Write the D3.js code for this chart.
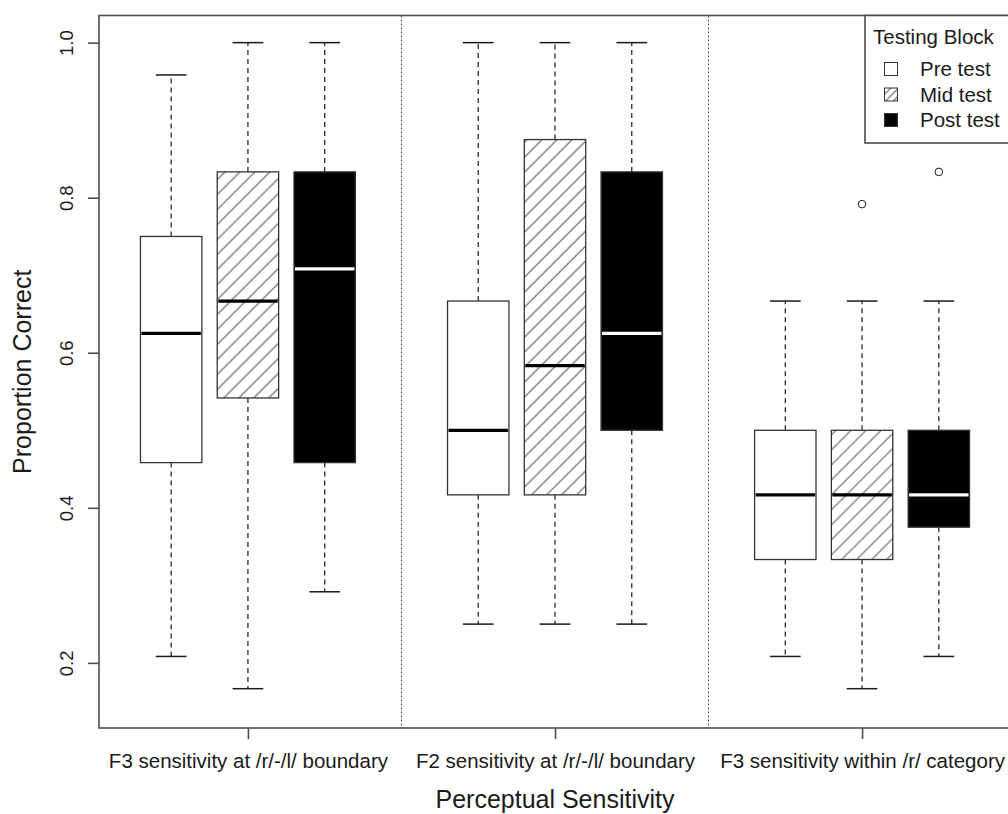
<!DOCTYPE html>
<html>
<head>
<meta charset="utf-8">
<script src="https://cdn.jsdelivr.net/npm/d3@7"></script>
<style>
  html, body { margin: 0; padding: 0; background: #fff; }
  svg { display: block; font-family: "Liberation Sans", Arial, sans-serif; }
</style>
</head>
<body>
<svg id="chart" width="1008" height="814"></svg>
<script>
// Perceptual sensitivity categories and testing blocks
const categories = [
  "F3 sensitivity at /r/-/l/ boundary",
  "F2 sensitivity at /r/-/l/ boundary",
  "F3 sensitivity within /r/ category"
];
const blocks = ["Pre test", "Mid test", "Post test"];

// Five-number summaries per category, one array per block: [lower whisker, Q1, median, Q3, upper whisker]
const preTest = [
  [0.2083, 0.4583, 0.625, 0.75, 0.9583],
  [0.25, 0.4167, 0.5, 0.6667, 1.0],
  [0.2083, 0.3333, 0.4167, 0.5, 0.6667]
];
const midTest = [
  [0.1667, 0.5417, 0.6667, 0.8333, 1.0],
  [0.25, 0.4167, 0.5833, 0.875, 1.0],
  [0.1667, 0.3333, 0.4167, 0.5, 0.6667]
];
const postTest = [
  [0.2917, 0.4583, 0.7083, 0.8333, 1.0],
  [0.25, 0.5, 0.625, 0.8333, 1.0],
  [0.2083, 0.375, 0.4167, 0.5, 0.6667]
];
// Outlying points: [category index, block index, value]
const outliers = [
  [2, 1, 0.7917],
  [2, 2, 0.8333]
];
const yTicks = [0.2, 0.4, 0.6, 0.8, 1.0];

const series = [preTest, midTest, postTest];

const svg = d3.select("#chart");
const ink = "#1a1a1a";
const frame = "#4d4d4d";

// Boxes sit at positions 1..3, 5..7, 9..11 with a one-slot gap between categories
const x = d3.scaleLinear().domain([0.06, 11.94]).range([99, 1011]);
const y = d3.scaleLinear().domain([0.116, 1.035]).range([728, 15.5]);
const pos = (ci, bi) => ci * 4 + 1 + bi;
const boxW = 0.8, capW = 0.4;

// Hatch pattern for the mid test
const defs = svg.append("defs");
defs.append("pattern")
  .attr("id", "hatch")
  .attr("patternUnits", "userSpaceOnUse")
  .attr("width", 10.6).attr("height", 10.6)
  .attr("patternTransform", "rotate(45)")
  .append("line")
  .attr("x1", 5).attr("y1", -1).attr("x2", 5).attr("y2", 12)
  .attr("stroke", "#3a3a3a").attr("stroke-width", 0.9);
defs.append("pattern")
  .attr("id", "hatchSmall")
  .attr("patternUnits", "userSpaceOnUse")
  .attr("width", 5.5).attr("height", 5.5)
  .attr("patternTransform", "rotate(45)")
  .append("line")
  .attr("x1", 2.7).attr("y1", -1).attr("x2", 2.7).attr("y2", 7)
  .attr("stroke", "#3a3a3a").attr("stroke-width", 0.9);

const fills = ["#ffffff", "url(#hatch)", "#000000"];
const legendFills = ["#ffffff", "url(#hatchSmall)", "#000000"];
const medianColors = ["#000000", "#000000", "#ffffff"];

// Category separators
svg.append("g").selectAll("line")
  .data([4, 8])
  .join("line")
  .attr("x1", d => x(d)).attr("x2", d => x(d))
  .attr("y1", y.range()[1]).attr("y2", y.range()[0])
  .attr("stroke", "#444").attr("stroke-width", 1)
  .attr("stroke-dasharray", "2,2");

// Box plots
const rows = [];
series.forEach((s, bi) => s.forEach((v, ci) => rows.push({ ci, bi, v })));

const g = svg.append("g");
rows.forEach(({ ci, bi, v }) => {
  const c = x(pos(ci, bi));
  const half = (x(boxW) - x(0)) / 2;
  const capHalf = (x(capW) - x(0)) / 2;
  const [lo, q1, med, q3, hi] = v;
  // whiskers
  g.append("line")
    .attr("x1", c).attr("x2", c).attr("y1", y(q3)).attr("y2", y(hi))
    .attr("stroke", ink).attr("stroke-width", 1.2).attr("stroke-dasharray", "5,4");
  g.append("line")
    .attr("x1", c).attr("x2", c).attr("y1", y(q1)).attr("y2", y(lo))
    .attr("stroke", ink).attr("stroke-width", 1.2).attr("stroke-dasharray", "5,4");
  // caps
  [lo, hi].forEach(w => {
    g.append("line")
      .attr("x1", c - capHalf).attr("x2", c + capHalf)
      .attr("y1", y(w)).attr("y2", y(w))
      .attr("stroke", ink).attr("stroke-width", 1.5);
  });
  // box
  g.append("rect")
    .attr("x", c - half).attr("y", y(q3))
    .attr("width", 2 * half).attr("height", y(q1) - y(q3))
    .attr("fill", fills[bi])
    .attr("stroke", "#333").attr("stroke-width", 1.3);
  // median
  g.append("line")
    .attr("x1", c - half + 1).attr("x2", c + half - 1)
    .attr("y1", y(med)).attr("y2", y(med))
    .attr("stroke", medianColors[bi]).attr("stroke-width", 3.2);
});

// Outliers
g.selectAll("circle")
  .data(outliers)
  .join("circle")
  .attr("cx", d => x(pos(d[0], d[1])))
  .attr("cy", d => y(d[2]))
  .attr("r", 3.8)
  .attr("fill", "none")
  .attr("stroke", ink)
  .attr("stroke-width", 1);

// Plot frame
svg.append("rect")
  .attr("x", x.range()[0]).attr("y", y.range()[1])
  .attr("width", x.range()[1] - x.range()[0])
  .attr("height", y.range()[0] - y.range()[1])
  .attr("fill", "none").attr("stroke", frame).attr("stroke-width", 1.6);

// Y axis
const yAxis = svg.append("g")
  .attr("transform", `translate(${x.range()[0]},0)`)
  .call(d3.axisLeft(y).tickValues(yTicks).tickFormat(d3.format(".1f")).tickSize(11).tickPadding(0));
yAxis.select(".domain").remove();
yAxis.selectAll(".tick line").attr("stroke", frame).attr("stroke-width", 1.6);
yAxis.selectAll(".tick text")
  .attr("transform", "translate(-26,0) rotate(-90)")
  .attr("x", 0).attr("dy", 0).attr("y", 0)
  .attr("text-anchor", "middle")
  .attr("font-size", 18.5)
  .attr("fill", ink);

// X axis
const xAxis = svg.append("g")
  .attr("transform", `translate(0,${y.range()[0]})`)
  .call(d3.axisBottom(x).tickValues(categories.map((d, i) => pos(i, 1)))
    .tickFormat((d, i) => categories[i]).tickSize(11).tickPadding(14));
xAxis.select(".domain").remove();
xAxis.selectAll(".tick line").attr("stroke", frame).attr("stroke-width", 1.6);
xAxis.selectAll(".tick text")
  .attr("font-size", 20.5).attr("fill", ink).attr("dy", "0.71em");

// Axis titles
svg.append("text")
  .attr("x", (x.range()[0] + x.range()[1]) / 2).attr("y", 808)
  .attr("text-anchor", "middle").attr("font-size", 25).attr("fill", ink)
  .text("Perceptual Sensitivity");
svg.append("text")
  .attr("transform", `translate(31,${(y.range()[0] + y.range()[1]) / 2}) rotate(-90)`)
  .attr("text-anchor", "middle").attr("font-size", 25).attr("fill", ink)
  .text("Proportion Correct");

// Legend
const lg = svg.append("g").attr("transform", "translate(865,15.5)");
lg.append("rect")
  .attr("x", 0).attr("y", 0).attr("width", 200).attr("height", 127.5)
  .attr("fill", "#fff").attr("stroke", frame).attr("stroke-width", 1.6);
lg.append("text")
  .attr("x", 8).attr("y", 28)
  .attr("font-size", 20.5).attr("fill", ink)
  .text("Testing Block");
const items = lg.selectAll("g.item")
  .data(blocks)
  .join("g")
  .attr("class", "item")
  .attr("transform", (d, i) => `translate(0,${53.5 + i * 25.5})`);
items.append("rect")
  .attr("x", 19.5).attr("y", -6.5).attr("width", 13).attr("height", 13)
  .attr("fill", (d, i) => legendFills[i])
  .attr("stroke", "#333").attr("stroke-width", 1);
items.append("text")
  .attr("x", 55).attr("y", 0).attr("dy", "0.35em")
  .attr("font-size", 20.5).attr("fill", ink)
  .text(d => d);
</script>
</body>
</html>
